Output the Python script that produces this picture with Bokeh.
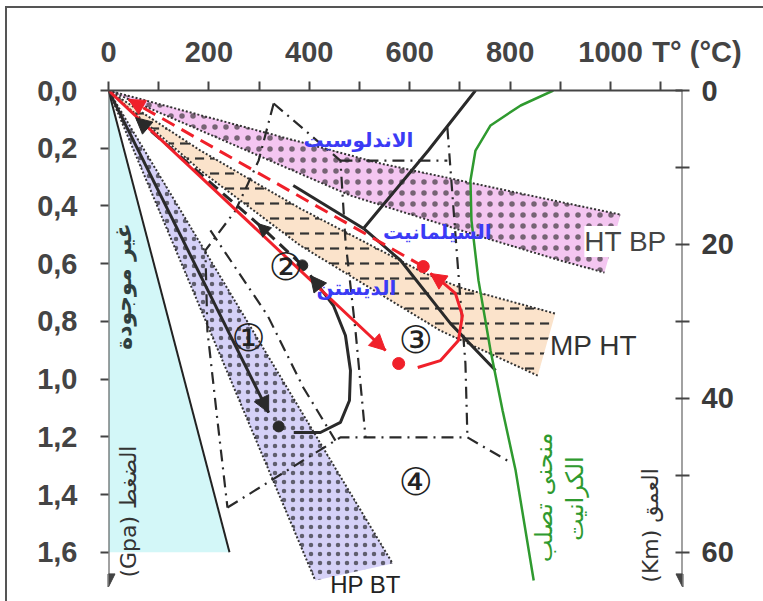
from bokeh.plotting import figure
from bokeh.models import (Range1d, LinearAxis, FixedTicker, CustomJSTickFormatter,
                          Arrow, NormalHead, Label)
from bokeh.embed import file_html
from bokeh.resources import INLINE

# ---------------- data (T in degC, P in GPa) ----------------
T_MAX = 1143.4
P_MAX = 1.7706
KM_PER_GPA = 37.5

temp_ticks = [0, 100, 200, 300, 400, 500, 600, 700, 800, 900, 1000, 1100]
pressure_ticks = [0.0, 0.2, 0.4, 0.6, 0.8, 1.0, 1.2, 1.4, 1.6]
depth_ticks = [0, 10, 20, 30, 40, 50, 60]
temp_title = "T° (°C)"

# domain that does not exist in nature
absent_T = [0, 241, 0]
absent_P = [0.0, 1.60, 1.60]

# HT BP gradient band
htbp_top_T = [0, 542, 886, 1020]
htbp_top_P = [0.0, 0.253, 0.381, 0.430]
htbp_bot_T = [0, 482, 747, 900, 988]
htbp_bot_P = [0.0, 0.364, 0.509, 0.589, 0.631]

# MP HT gradient band
mpht_top_T = [0, 183, 382, 627, 701, 890]
mpht_top_P = [0.0, 0.208, 0.409, 0.631, 0.683, 0.773]
mpht_bot_T = [0, 183, 382, 661, 855]
mpht_bot_P = [0.0, 0.277, 0.537, 0.832, 0.988]

# HP BT gradient band
hpbt_left_T = [0, 412]
hpbt_left_P = [0.0, 1.698]
hpbt_right_T = [0, 566]
hpbt_right_P = [0.0, 1.639]

# Al2SiO5 phase boundaries
ky_and_T = [368, 508]
ky_and_P = [0.329, 0.478]
ky_sil_T = [508, 582, 681, 771]
ky_sil_P = [0.478, 0.589, 0.807, 0.970]
and_sil_T = [508, 637, 731]
and_sil_P = [0.478, 0.208, 0.0]

# granite solidus
solidus_T = [886, 821, 761, 731, 721, 723, 737, 761, 785, 811, 847]
solidus_P = [0.0, 0.052, 0.121, 0.208, 0.312, 0.450, 0.658, 0.901, 1.109, 1.317, 1.698]

# facies limits (dash-dot)
facies_T = [
    [329, 299, 253, 193, 197, 217, 237],
    [237, 462, 715, 801],
    [329, 462, 472, 492, 512],
    [203, 317, 388, 452],
    [675, 681, 695, 711, 715],
    [462, 675],
]
facies_P = [
    [0.045, 0.243, 0.416, 0.554, 0.832, 1.143, 1.445],
    [1.445, 1.202, 1.202, 1.289],
    [0.045, 0.243, 0.520, 0.832, 1.202],
    [0.485, 0.780, 1.029, 1.213],
    [0.128, 0.267, 0.589, 0.946, 1.202],
    [0.243, 0.243],
]

# P-T paths
path1_T = [0, 319]
path1_P = [0.0, 1.116]
point1 = (339, 1.164)
loop1_T = [369, 422, 462, 480, 482, 472, 448, 418, 402]
loop1_P = [1.185, 1.185, 1.150, 1.074, 0.970, 0.849, 0.745, 0.676, 0.641]
point2 = (386, 0.606)
return1_T = [386, 297, 54]
return1_P = [0.606, 0.461, 0.094]

path3_T = [0, 552]
path3_P = [0.0, 0.901]
point3 = (578, 0.946)
loop3_T = [616, 661, 697, 705, 691, 661, 641]
loop3_P = [0.960, 0.936, 0.866, 0.780, 0.703, 0.658, 0.634]
point4 = (627, 0.610)
return3_T = [627, 40]
return3_P = [0.610, 0.031]

# ---------------- figure ----------------
p = figure(width=763, height=601, x_range=Range1d(0, T_MAX), y_range=Range1d(P_MAX, 0),
           x_axis_location="above", output_backend="svg", toolbar_location=None,
           min_border_left=108, min_border_right=81, min_border_top=90, min_border_bottom=0)
p.grid.visible = False
p.outline_line_color = None
p.background_fill_color = "white"
p.border_fill_color = None
# thin rules along the top and left edges of the page, behind the transparent border area
p.styles = {"background": "linear-gradient(#555555, #555555) 5px 6px / 100% 2px no-repeat, "
                          "linear-gradient(#555555, #555555) 5px 6px / 2px 100% no-repeat, #ffffff"}

AX = "#444444"
TICK_FONT = "Liberation Sans"

xa = p.xaxis[0]
xa.ticker = FixedTicker(ticks=temp_ticks)
xa.formatter = CustomJSTickFormatter(args=dict(title=temp_title), code="""
const t = Math.round(tick);
if (t == 1100) { return '\\u00a0'.repeat(9) + title; }
return (t % 200 == 0) ? String(t) : '';
""")
ya = p.yaxis[0]
ya.ticker = FixedTicker(ticks=pressure_ticks)
ya.formatter = CustomJSTickFormatter(code="return tick.toFixed(1).replace('.', ',');")

p.extra_y_ranges = {"depth": Range1d(P_MAX * KM_PER_GPA, 0)}
ra = LinearAxis(y_range_name="depth", ticker=FixedTicker(ticks=depth_ticks),
                formatter=CustomJSTickFormatter(code="return (Math.round(tick) % 20 == 0) ? String(Math.round(tick)) : '';"))
p.add_layout(ra, "right")

for ax in (xa, ya, ra):
    ax.axis_line_color = AX
    ax.axis_line_width = 2
    ax.major_tick_line_color = AX
    ax.major_tick_line_width = 2
    ax.minor_tick_line_color = None
    ax.major_label_text_font = TICK_FONT
    ax.major_label_text_font_style = "bold"
    ax.major_label_text_font_size = "29px"
    ax.major_label_text_color = AX
xa.major_tick_out = 9
xa.major_tick_in = 0
xa.major_label_standoff = 14
ya.major_tick_out = 8
ya.major_tick_in = 0
ya.major_label_standoff = 23
ya.axis_line_color = None
ra.major_tick_out = 7
ra.major_tick_in = 7
ra.major_label_standoff = 12
ra.axis_line_color = None
ra.major_label_text_color = "#3a3a3a"

# axis arrows
p.add_layout(Arrow(x_start=0, y_start=0, x_end=0, y_end=1.72, line_color=AX, line_width=2,
                   end=NormalHead(size=13, fill_color=AX, line_color=AX)))
p.add_layout(Arrow(x_start=T_MAX, y_start=0, x_end=T_MAX, y_end=1.72, line_color=AX, line_width=2,
                   end=NormalHead(size=13, fill_color=AX, line_color=AX)))

# ---------------- regions ----------------
p.patch(absent_T, absent_P, fill_color="#d3f7f8", line_color=None)
p.line(absent_T[:2], absent_P[:2], line_color="#222222", line_width=2)

p.patch(hpbt_left_T + hpbt_right_T[::-1][:-1], hpbt_left_P + hpbt_right_P[::-1][:-1],
        fill_color="#d5d1f7", line_color=None,
        hatch_pattern="dot", hatch_color="#111111", hatch_scale=9, hatch_weight=0.7, hatch_alpha=0.6)
p.multi_line([hpbt_left_T, hpbt_right_T], [hpbt_left_P, hpbt_right_P],
             line_color="#333333", line_width=2, line_dash="2 2")

p.patch(htbp_top_T + htbp_bot_T[::-1][:-1], htbp_top_P + htbp_bot_P[::-1][:-1],
        fill_color="#f4c6f1", line_color=None,
        hatch_pattern="dot", hatch_color="#222222", hatch_scale=11, hatch_weight=0.8, hatch_alpha=0.6)
p.multi_line([htbp_top_T, htbp_bot_T], [htbp_top_P, htbp_bot_P],
             line_color="#333333", line_width=2, line_dash="2 2")

p.patch(mpht_top_T + mpht_bot_T[::-1][:-1], mpht_top_P + mpht_bot_P[::-1][:-1],
        fill_color="#fbe3cb", line_color=None,
        hatch_pattern="horizontal_dash", hatch_color="#333333", hatch_scale=15, hatch_weight=2.2)
p.multi_line([mpht_top_T, mpht_bot_T], [mpht_top_P, mpht_bot_P],
             line_color="#333333", line_width=2, line_dash="2 2")

# facies limits
p.multi_line(facies_T, facies_P, line_color="#2a2a2a", line_width=2.2, line_dash="12 6 2 6")

# Al2SiO5 boundaries
p.line(ky_and_T, ky_and_P, line_color="#2a2a2a", line_width=3)
p.line(ky_sil_T, ky_sil_P, line_color="#2a2a2a", line_width=3)
p.line(and_sil_T, and_sil_P, line_color="#2a2a2a", line_width=3)

# granite solidus
p.line(solidus_T, solidus_P, line_color="#2f9a2f", line_width=2.5)

# ---------------- paths ----------------
RED = "#f0202a"
BLK = "#2a2a2a"


def head(xs, ys, color, size=16):
    p.add_layout(Arrow(x_start=xs[-2], y_start=ys[-2], x_end=xs[-1], y_end=ys[-1],
                       line_alpha=0, end=NormalHead(size=size, fill_color=color, line_color=color)))


p.line(path1_T, path1_P, line_color=BLK, line_width=3)
head(path1_T, path1_P, BLK)
p.scatter([point1[0]], [point1[1]], size=11, color=BLK)
p.line(loop1_T, loop1_P, line_color=BLK, line_width=3)
head(loop1_T, loop1_P, BLK)
p.scatter([point2[0]], [point2[1]], size=11, color=BLK)
p.line(return1_T, return1_P, line_color=BLK, line_width=3, line_dash="12 7")
head(return1_T[:2], return1_P[:2], BLK, size=13)
head(return1_T, return1_P, BLK)

p.line(path3_T, path3_P, line_color=RED, line_width=3)
head(path3_T, path3_P, RED)
p.scatter([point3[0]], [point3[1]], size=12, color=RED)
p.line(loop3_T, loop3_P, line_color=RED, line_width=3)
head(loop3_T, loop3_P, RED)
p.scatter([point4[0]], [point4[1]], size=12, color=RED)
p.line(return3_T, return3_P, line_color=RED, line_width=3, line_dash="14 8")
head(return3_T, return3_P, RED)


# ---------------- texts ----------------
def lab(x, y, text, size, color, font="Liberation Sans", style="normal", angle=0.0, bg=None,
        baseline="middle"):
    l = Label(x=x, y=y, text=text, text_font=font, text_font_size=size, text_color=color,
              text_font_style=style, angle=angle, angle_units="rad",
              text_align="center", text_baseline=baseline)
    if bg:
        l.background_fill_color = bg
    p.add_layout(l)


BLUE = "#3b3bf5"
lab(498, 0.173, "الاندلوسيت", "20px", BLUE, font="DejaVu Sans", style="bold")
lab(655, 0.489, "السيلمانيت", "20px", BLUE, font="DejaVu Sans", style="bold")
lab(494, 0.683, "الديستن", "20px", BLUE, font="DejaVu Sans", style="bold")

lab(1030, 0.523, "HT BP", "28px", "#444444", bg="white")
lab(966, 0.884, "MP HT", "28px", "#333333")
lab(512, 1.758, "HP BT", "24px", "#222222", baseline="bottom")

for (x, y, t) in [(279, 0.859, "①"), (353, 0.613, "②"), (612, 0.866, "③"), (612, 1.358, "④")]:
    lab(x, y, t, "38px", "#222222", font="DejaVu Sans")

lab(30, 0.679, "غير موجودة", "22px", "#2f3f3f", font="DejaVu Sans", style="bold", angle=1.5708)
lab(40, 1.459, "(Gpa) الضغط", "22px", "#333333", font="DejaVu Sans", angle=1.5708)
lab(1080, 1.507, "(Km) العمق", "22px", "#333333", font="DejaVu Sans", angle=1.5708)
lab(867, 1.41, "منحنى تصلب", "24px", "#2f9a2f", font="DejaVu Sans", angle=1.5708)
lab(930, 1.414, "الكرانيت", "24px", "#2f9a2f", font="DejaVu Sans", angle=1.5708)

open("out.html", "w").write(file_html(p, INLINE))
